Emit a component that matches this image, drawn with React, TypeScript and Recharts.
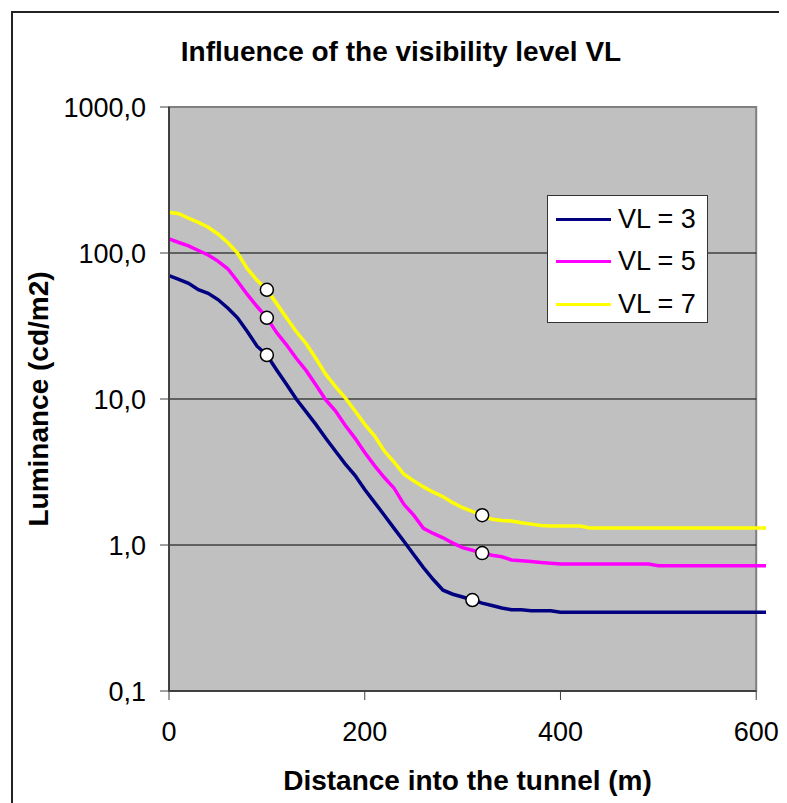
import {
  ComposedChart,
  Line,
  Scatter,
  XAxis,
  YAxis,
  ReferenceArea,
  ReferenceLine,
  Label,
} from 'recharts';

const distance = [
  0, 10, 20, 30, 40, 50, 60, 70, 80, 90, 100, 110, 120, 130, 140, 150, 160, 170, 180, 190, 200,
  210, 220, 230, 240, 250, 260, 270, 280, 290, 300, 310, 320, 330, 340, 350, 360, 370, 380, 390,
  400, 410, 420, 430, 440, 450, 460, 470, 480, 490, 500, 510, 520, 530, 540, 550, 560, 570, 580,
  590, 600, 610,
];

const vl3 = [
  70, 66, 62, 56, 53, 48, 42, 36, 29, 23, 20, 15.8, 12.6, 10, 8.2, 6.7, 5.4, 4.4, 3.6, 3.0, 2.4,
  1.96, 1.6, 1.3, 1.06, 0.86, 0.7, 0.58, 0.49, 0.46, 0.44, 0.42, 0.4, 0.385, 0.37, 0.36, 0.36,
  0.355, 0.355, 0.355, 0.346, 0.346, 0.346, 0.346, 0.346, 0.346, 0.346, 0.346, 0.346, 0.346, 0.346,
  0.346, 0.346, 0.346, 0.346, 0.346, 0.346, 0.346, 0.346, 0.346, 0.346, 0.346,
];

const vl5 = [
  125, 118, 112, 104, 97, 88, 78, 64, 52, 43, 36, 28.5, 23.5, 19, 15.7, 12.5, 9.9, 8.3, 6.6, 5.4,
  4.3, 3.5, 2.9, 2.45, 1.9, 1.6, 1.3, 1.2, 1.12, 1.03, 0.96, 0.92, 0.88, 0.85, 0.83, 0.79, 0.78,
  0.77, 0.76, 0.75, 0.74, 0.74, 0.74, 0.74, 0.74, 0.74, 0.74, 0.74, 0.74, 0.74, 0.72, 0.72, 0.72,
  0.72, 0.72, 0.72, 0.72, 0.72, 0.72, 0.72, 0.72, 0.72,
];

const vl7 = [
  190, 186, 173, 162, 150, 135, 118, 100, 78, 65, 56, 45, 36, 29, 24, 19, 14.8, 12.2, 10.2, 8.3,
  6.7, 5.6, 4.4, 3.7, 3.05, 2.75, 2.5, 2.3, 2.14, 1.95, 1.8, 1.7, 1.6, 1.5, 1.47, 1.46, 1.42, 1.39,
  1.36, 1.35, 1.35, 1.35, 1.35, 1.31, 1.31, 1.31, 1.31, 1.31, 1.31, 1.31, 1.31, 1.31, 1.31, 1.31,
  1.31, 1.31, 1.31, 1.31, 1.31, 1.31, 1.31, 1.31,
];

// critical points marked with open circles
const markerDistance3 = [100, 310];
const markerValue3 = [20, 0.42];
const markerDistance5 = [100, 320];
const markerValue5 = [36, 0.88];
const markerDistance7 = [100, 320];
const markerValue7 = [56, 1.6];

const xTicks = [0, 200, 400, 600];
const yTicks = [0.1, 1, 10, 100, 1000];

const series = [
  { key: 'vl3', name: 'VL = 3', color: '#000080' },
  { key: 'vl5', name: 'VL = 5', color: '#ff00ff' },
  { key: 'vl7', name: 'VL = 7', color: '#ffff00' },
];

const data = distance.map((d, i) => ({ distance: d, vl3: vl3[i], vl5: vl5[i], vl7: vl7[i] }));

const markers = [
  ...markerDistance3.map((d, i) => ({ distance: d, value: markerValue3[i] })),
  ...markerDistance5.map((d, i) => ({ distance: d, value: markerValue5[i] })),
  ...markerDistance7.map((d, i) => ({ distance: d, value: markerValue7[i] })),
];

const FONT = '"Liberation Sans", Arial, sans-serif';

const fmt = (v: number) => v.toFixed(1).replace('.', ',');

function OpenCircle(props: any) {
  const { cx, cy } = props;
  return <circle cx={cx} cy={cy} r={6.5} fill="#fff" stroke="#000" strokeWidth={1.5} />;
}

function LegendBox() {
  return (
    <div
      style={{
        position: 'absolute',
        left: 534,
        top: 182,
        width: 159,
        height: 126,
        background: '#fff',
        border: '1px solid #333',
        fontFamily: FONT,
        fontSize: 27,
      }}
    >
      {series.map((s, i) => (
        <div
          key={s.key}
          style={{
            position: 'absolute',
            left: 8,
            top: 6 + i * 42.5,
            height: 34,
            display: 'flex',
            alignItems: 'center',
          }}
        >
          <div style={{ width: 55, height: 3, background: s.color, marginRight: 7 }} />
          <span>{s.name}</span>
        </div>
      ))}
    </div>
  );
}

export default function App() {
  return (
    <div
      style={{
        marginLeft: 3,
        marginTop: 3,
        width: 768,
        height: 792,
        border: '2px solid #222',
        position: 'relative',
        background: '#fff',
        fontFamily: FONT,
      }}
    >
      <div
        style={{
          position: 'absolute',
          left: 0,
          top: 24,
          width: 776,
          textAlign: 'center',
          fontSize: 28,
          fontWeight: 'bold',
          lineHeight: '30px',
        }}
      >
        Influence of the visibility level VL
      </div>
      <ComposedChart
        width={768}
        height={790}
        data={data}
        margin={{ top: 94, right: 15, bottom: 0, left: 0 }}
        style={{ fontFamily: FONT }}
      >
        <ReferenceArea
          x1={xTicks[0]}
          x2={xTicks[xTicks.length - 1]}
          y1={yTicks[0]}
          y2={yTicks[yTicks.length - 1]}
          fill="#c0c0c0"
          fillOpacity={1}
          stroke="#808080"
          strokeWidth={2}
        />
        {yTicks.slice(1, -1).map((t) => (
          <ReferenceLine
            key={t}
            segment={[
              { x: xTicks[0], y: t },
              { x: xTicks[xTicks.length - 1], y: t },
            ]}
            stroke="#000"
            strokeWidth={1}
          />
        ))}
        <ReferenceLine
          segment={[
            { x: xTicks[0], y: yTicks[0] },
            { x: xTicks[xTicks.length - 1], y: yTicks[0] },
          ]}
          stroke="#404040"
          strokeWidth={2}
        />
        <XAxis
          dataKey="distance"
          type="number"
          domain={[0, 'dataMax']}
          ticks={xTicks}
          interval={0}
          height={112}
          axisLine={false}
          tickSize={9}
          tickMargin={22}
          tickLine={{ stroke: '#404040' }}
          tick={{ fill: '#000', fontSize: 27, fontFamily: FONT }}
        >
          <Label
            value="Distance into the tunnel (m)"
            position="insideBottom"
            offset={13}
            style={{ fontSize: 28, fontWeight: 'bold', fill: '#000', fontFamily: FONT }}
          />
        </XAxis>
        <YAxis
          type="number"
          scale="log"
          domain={[yTicks[0], yTicks[yTicks.length - 1]]}
          ticks={yTicks}
          interval={0}
          width={156}
          tickFormatter={fmt}
          axisLine={{ stroke: '#404040', strokeWidth: 2 }}
          tickSize={9}
          tickMargin={14}
          tickLine={{ stroke: '#404040' }}
          tick={{ fill: '#000', fontSize: 27, fontFamily: FONT }}
        >
          <Label
            value="Luminance (cd/m2)"
            angle={-90}
            position="center"
            dx={-53}
            style={{ fontSize: 28, fontWeight: 'bold', fill: '#000', fontFamily: FONT, textAnchor: 'middle' }}
          />
        </YAxis>
        {series.map((s) => (
          <Line
            key={s.key}
            type="linear"
            dataKey={s.key}
            name={s.name}
            stroke={s.color}
            strokeWidth={3.5}
            dot={false}
            activeDot={false}
            isAnimationActive={false}
          />
        ))}
        <Scatter
          data={markers}
          dataKey="value"
          shape={OpenCircle}
          isAnimationActive={false}
        />
      </ComposedChart>
      <LegendBox />
    </div>
  );
}
